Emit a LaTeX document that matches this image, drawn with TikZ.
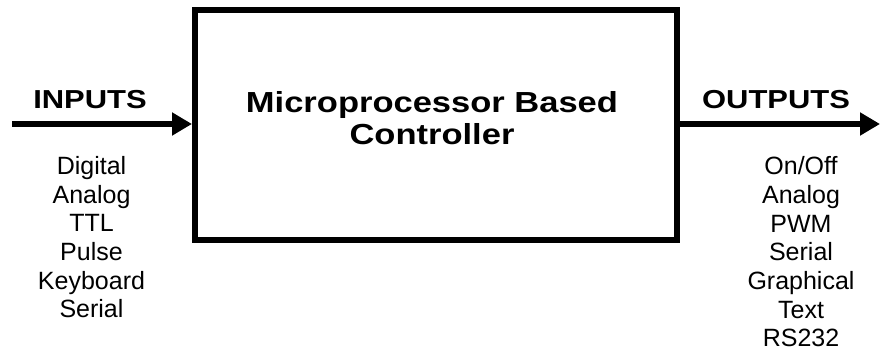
\documentclass[tikz,border=0pt]{standalone}
\usepackage{fontspec}
\setmainfont{Liberation Sans}
\newfontfamily\widesans[FakeStretch=1.19]{Liberation Sans}
\usetikzlibrary{arrows.meta}
\begin{document}
\begin{tikzpicture}[x=1pt,y=1pt,
  blockbox/.style={draw, line width=6pt, minimum width=482pt, minimum height=230pt, inner sep=0pt},
  flowarrow/.style={line width=6.5pt, -{Triangle[length=20pt,width=22pt]}},
  headlabel/.style={anchor=base, inner sep=0pt, font=\widesans\bfseries\fontsize{26}{31}\selectfont},
  titlelabel/.style={anchor=base, inner sep=0pt, font=\widesans\bfseries\fontsize{29}{32}\selectfont},
  itemlabel/.style={anchor=base, inner sep=0pt, font=\fontsize{25}{29}\selectfont}]
\useasboundingbox (0,0) rectangle (881,353);
\node[blockbox] (box) at (436,228) {};
\node[titlelabel] (t1) at (432,240) {Microprocessor Based};
\node[titlelabel] (t2) at (432,208) {Controller};
\coordinate (ins) at (12,229);
\coordinate (oute) at (880,229);
\draw[flowarrow] (ins) -- (ins -| box.west);
\draw[flowarrow] (oute -| box.east) -- (oute);
\node[headlabel] (inl) at (90,244) {INPUTS};
\node[headlabel] (outl) at (776,244) {OUTPUTS};
\foreach \t [count=\i from 0] in {Digital,Analog,TTL,Pulse,Keyboard,Serial}
  \node[itemlabel] (in\i) at (91.5,{353-174.5-28.7*\i}) {\t};
\foreach \t [count=\i from 0] in {On/Off,Analog,PWM,Serial,Graphical,Text,RS232}
  \node[itemlabel] (out\i) at (801,{353-174.8-28.7*\i}) {\t};
\end{tikzpicture}
\end{document}
